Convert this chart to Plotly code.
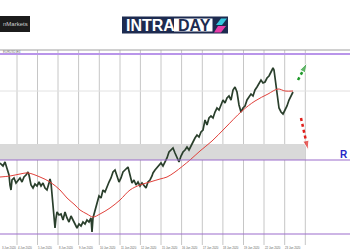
import plotly.graph_objects as go

# ---- data (price in arbitrary FX-style units, x in bar index) ----
price_x = [0,3,5,7,9,10,11,12,14,16,18,20,22,24,26,28,29,31,33,35,37,39,41,43,45,47,49,50,51,52,53,54,55,56,57,59,61,63,65,67,69,71,73,75,77,79,81,83,85,87,89,91,92,93,95,97,99,101,103,105,107,109,111,113,115,117,119,121,123,125,127,128,130,132,134,136,138,140,142,144,146,148,150,152,153,155,157,159,161,163,165,167,169,171,173,175,177,179,181,183,185,187,189,191,193,195,197,199,201,203,205,207,209,211,213,215,217,219,221,223,225,227,229,231,233,235,237,239,241,243,245,247,249,251,253,255,257,259,261,263,265,267,269,271,273,274,275,277,278,279,281,283,285,287,289,291,293]
price_y = [1.1385,1.1370,1.1390,1.1360,1.1325,1.1275,1.1250,1.1300,1.1310,1.1285,1.1300,1.1310,1.1290,1.1315,1.1325,1.1340,1.1325,1.1275,1.1260,1.1280,1.1270,1.1290,1.1270,1.1285,1.1260,1.1250,1.1285,1.1305,1.1285,1.1225,1.1150,1.1075,1.1060,1.1110,1.1140,1.1125,1.1130,1.1100,1.1140,1.1110,1.1090,1.1120,1.1100,1.1075,1.1060,1.1080,1.1070,1.1090,1.1080,1.1100,1.1090,1.1110,1.1040,1.1110,1.1150,1.1190,1.1220,1.1210,1.1250,1.1240,1.1270,1.1290,1.1310,1.1340,1.1350,1.1325,1.1290,1.1310,1.1340,1.1350,1.1360,1.1365,1.1325,1.1285,1.1300,1.1275,1.1290,1.1270,1.1285,1.1275,1.1260,1.1290,1.1300,1.1320,1.1335,1.1350,1.1360,1.1375,1.1385,1.1370,1.1390,1.1410,1.1440,1.1450,1.1460,1.1435,1.1410,1.1390,1.1420,1.1440,1.1450,1.1465,1.1450,1.1475,1.1490,1.1510,1.1525,1.1515,1.1540,1.1550,1.1600,1.1575,1.1610,1.1620,1.1610,1.1640,1.1660,1.1650,1.1680,1.1700,1.1685,1.1710,1.1720,1.1700,1.1750,1.1765,1.1740,1.1675,1.1640,1.1660,1.1670,1.1700,1.1715,1.1730,1.1720,1.1750,1.1765,1.1780,1.1800,1.1785,1.1790,1.1810,1.1820,1.1840,1.1860,1.1850,1.1810,1.1760,1.1700,1.1660,1.1640,1.1630,1.1650,1.1670,1.1700,1.1720,1.1740]

ma_x = [0,10,20,28,40,50,60,67,75,80,87,93,100,110,120,130,140,150,160,167,175,190,200,212,225,242,255,268,278,285,293]
ma_y = [1.1315,1.1320,1.1330,1.1335,1.1315,1.1290,1.1250,1.1210,1.1175,1.1150,1.1130,1.1115,1.1130,1.1160,1.1200,1.1250,1.1275,1.1290,1.1305,1.1315,1.1340,1.1400,1.1445,1.1495,1.1560,1.1645,1.1695,1.1730,1.1755,1.1745,1.1745]

grid_bars = [17, 37.5, 58, 78.6, 99.3, 120, 140.4, 161, 181.6, 202.3, 222.9, 243.5, 264, 284.7, 305.3]
label_bars = [0, 17, 37.5, 58, 78.6, 99.3, 120, 140.4, 161, 181.6, 202.3, 222.9, 243.5, 264, 284.7]
date_labels = ["3 Jun 2020","4 Jun 2020","5 Jun 2020","8 Jun 2020","9 Jun 2020","10 Jun 2020","11 Jun 2020",
               "12 Jun 2020","15 Jun 2020","16 Jun 2020","17 Jun 2020","18 Jun 2020","19 Jun 2020",
               "22 Jun 2020","23 Jun 2020"]

level_top = 1.1930
level_support = 1.1400
level_bottom = 1.1030
zone_low, zone_high = 1.1400, 1.1480
zone_end = 305
grid_price = 1.1745

up_arrow_x = [298, 307]
up_arrow_y = [1.1800, 1.1885]
down_arrow_x = [301, 308]
down_arrow_y = [1.1610, 1.1450]

W, H = 350, 250
def px(x):
    return x / W
def py(y):
    return 1 - y / H

fig = go.Figure()

# vertical grid lines
for g in grid_bars:
    fig.add_shape(type="line", xref="x", yref="paper", x0=g, x1=g, y0=py(245), y1=py(50),
                  line=dict(color="#c6c6c6", width=1), layer="below")
# horizontal grid line
fig.add_shape(type="line", xref="paper", yref="y", x0=0, x1=1, y0=grid_price, y1=grid_price,
              line=dict(color="#e2e2e2", width=1), layer="below")
# zone
fig.add_shape(type="rect", xref="x", yref="y", x0=0, x1=zone_end, y0=zone_low, y1=zone_high,
              fillcolor="#d9d9d9", line=dict(width=0), layer="below")
# levels
fig.add_hline(y=level_top, line=dict(color="#b995ea", width=2))
fig.add_hline(y=level_support, line=dict(color="#9b6dcc", width=1.2))
fig.add_hline(y=level_bottom, line=dict(color="#9b6dcc", width=1.2))

fig.add_trace(go.Scatter(x=price_x, y=price_y, mode="lines",
                         line=dict(color="#2a3f2c", width=1.7), hoverinfo="skip"))
fig.add_trace(go.Scatter(x=ma_x, y=ma_y, mode="lines", line_shape="spline",
                         line=dict(color="#e0403a", width=1), hoverinfo="skip"))

for ax, ay, col in [(up_arrow_x, up_arrow_y, "#1f9a2a"), (down_arrow_x, down_arrow_y, "#e0201c")]:
    fig.add_trace(go.Scatter(x=ax, y=ay, mode="lines+markers",
                             line=dict(color=col, width=2.5, dash="dot"),
                             marker=dict(symbol="arrow", size=[0, 10], color=col, angleref="previous"),
                             hoverinfo="skip"))

# top border of chart
fig.add_shape(type="line", xref="paper", yref="paper", x0=0, x1=1, y0=py(50), y1=py(50),
              line=dict(color="#a0a0a0", width=1))

# left logo
fig.add_shape(type="rect", xref="paper", yref="paper", x0=px(0), x1=px(30), y0=py(32), y1=py(16),
              fillcolor="#1c1c1c", line=dict(width=0))
fig.add_annotation(xref="paper", yref="paper", x=px(1), y=py(24), text="nMarkets", showarrow=False,
                   xanchor="left", yanchor="middle", font=dict(family="Liberation Sans", size=6, color="#cfcfcf"))

# INTRADAY logo
fig.add_shape(type="rect", xref="paper", yref="paper", x0=px(122), x1=px(228), y0=py(33.5), y1=py(16.5),
              fillcolor="#1d2b50", line=dict(width=0))
fig.add_shape(type="rect", xref="paper", yref="paper", x0=px(174), x1=px(212.5), y0=py(31.5), y1=py(18.5),
              fillcolor="#ffffff", line=dict(width=0))
fig.add_annotation(xref="paper", yref="paper", x=px(123.5), y=py(25.5), text="<b>INTRA</b>", showarrow=False,
                   xanchor="left", yanchor="middle", font=dict(family="Liberation Sans", size=16, color="#ffffff"))
fig.add_annotation(xref="paper", yref="paper", x=px(175.5), y=py(25.5), text="<b>DAY</b>", showarrow=False,
                   xanchor="left", yanchor="middle", font=dict(family="Liberation Sans", size=16, color="#1d2b50"))
def path(pts):
    return "M " + " L ".join(f"{px(a):.5f},{py(b):.5f}" for a, b in pts) + " Z"
fig.add_shape(type="path", xref="paper", yref="paper", path=path([(216, 25), (221, 18.5), (227, 18.5), (222, 25)]),
              fillcolor="#36c8e0", line=dict(width=0))
fig.add_shape(type="path", xref="paper", yref="paper", path=path([(214, 32.5), (218, 26), (226, 26), (221, 32.5)]),
              fillcolor="#e83ca8", line=dict(width=0))

# tiny symbol caption
fig.add_annotation(xref="paper", yref="paper", x=px(0.5), y=py(52.5), text="EURUSD,H4", showarrow=False,
                   xanchor="left", yanchor="middle", font=dict(family="Liberation Sans", size=3, color="#777777"))

# date labels
for i, (gx, lab) in enumerate(zip(label_bars, date_labels)):
    fig.add_annotation(xref="x", yref="paper", x=(gx + 0.3) if i == 0 else (gx - 1.5), y=py(247.5), text=lab,
                       showarrow=False, xanchor="left", yanchor="middle",
                       font=dict(family="Liberation Sans", size=2.8, color="#666666"))

# R label
fig.add_annotation(xref="paper", yref="y", x=1, y=1.1430, text="<b>R</b>", showarrow=False,
                   xanchor="right", yanchor="middle", font=dict(family="Liberation Sans", size=10, color="#2626c8"))

fig.update_layout(width=W, height=H, margin=dict(l=0, r=0, t=0, b=0),
                  paper_bgcolor="white", plot_bgcolor="white", showlegend=False)
fig.update_xaxes(range=[0, 350], domain=[0, 1], showticklabels=False, showgrid=False,
                 zeroline=False, showline=False, ticks="")
fig.update_yaxes(range=[1.0975, 1.1950], domain=[py(245), py(50)], showticklabels=False,
                 showgrid=False, zeroline=False, showline=False, ticks="")

fig.write_html("out.html")
